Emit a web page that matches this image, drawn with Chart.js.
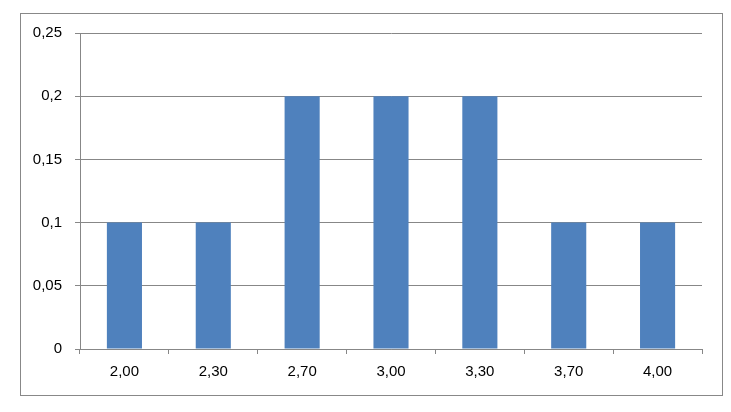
<!DOCTYPE html>
<html>
<head>
<meta charset="utf-8">
<script src="https://cdn.jsdelivr.net/npm/chart.js@4.4.1/dist/chart.umd.min.js"></script>
<style>
  html, body { margin: 0; padding: 0; background: #ffffff; }
  #wrap { position: relative; width: 731px; height: 412px; }
  #frame { position: absolute; left: 20px; top: 13px; width: 701px; height: 381px; border: 1px solid #888888; box-sizing: content-box; pointer-events: none; }
  canvas { position: absolute; left: 0; top: 0; }
</style>
</head>
<body>
<div id="wrap">
  <canvas id="c" width="731" height="412"></canvas>
  <div id="frame"></div>
</div>
<script>
const categories = ['2,00', '2,30', '2,70', '3,00', '3,30', '3,70', '4,00'];
const values = [0.1, 0.1, 0.2, 0.2, 0.2, 0.1, 0.1];
const yTickValues = [0, 0.05, 0.1, 0.15, 0.2, 0.25];

const FONT = { family: '"Liberation Sans", Arial, sans-serif', size: 15 };
const GRID = '#878787';

new Chart(document.getElementById('c'), {
  type: 'bar',
  data: {
    labels: categories,
    datasets: [{
      data: values,
      backgroundColor: '#4F81BD',
      borderWidth: 0,
      categoryPercentage: 1,
      barPercentage: 0.395
    }]
  },
  options: {
    responsive: false,
    devicePixelRatio: 1,
    animation: false,
    layout: { padding: { left: 0, top: 33, right: 29, bottom: 0 } },
    plugins: { legend: { display: false }, tooltip: { enabled: false } },
    scales: {
      x: {
        grid: { offset: true, drawOnChartArea: false, drawTicks: true, tickLength: 5, color: GRID, lineWidth: 1 },
        border: { display: true, color: GRID, width: 1 },
        ticks: { color: '#000000', font: FONT, padding: 9, maxRotation: 0 },
        afterFit: (s) => { s.height = 63; }
      },
      y: {
        min: 0,
        max: 0.25,
        grid: { drawTicks: true, tickLength: 5, color: GRID, lineWidth: 1 },
        border: { display: true, color: GRID, width: 1 },
        ticks: {
          color: '#000000', font: FONT, padding: 13,
          stepSize: 0.05,
          callback: (v) => {
            const t = yTickValues.find(x => Math.abs(x - v) < 1e-9);
            return t === undefined ? '' : String(t).replace('.', ',');
          }
        },
        afterFit: (s) => { s.width = 80; }
      }
    }
  }
});
</script>
</body>
</html>
